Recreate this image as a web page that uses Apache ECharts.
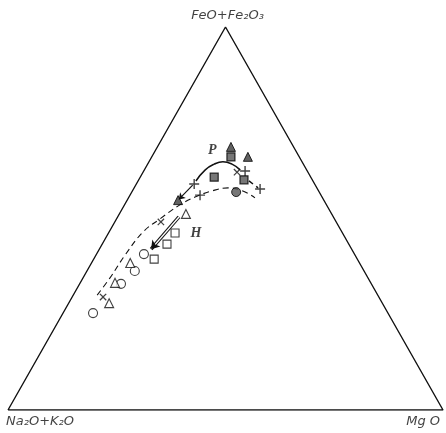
<!DOCTYPE html>
<html><head><meta charset="utf-8">
<script src="https://cdn.jsdelivr.net/npm/echarts@6/dist/echarts.min.js"></script>
<style>html,body{margin:0;padding:0;background:#fff}#c{width:446px;height:433px}</style>
</head><body><div id="c"></div>
<script>
// Ternary compositions in percent, order: [Na2O+K2O, FeO+Fe2O3, MgO]
const vertexNames = ['Na₂O+K₂O', 'FeO+Fe₂O₃', 'Mg O'];
const vertices = [[100, 0, 0], [0, 100, 0], [0, 0, 100]];
const filledTriangles = [[14.4, 68.7, 16.9], [11.8, 66.1, 22.1], [33.5, 54.8, 11.7]];
const filledSquares = [[15.7, 66.1, 18.2], [22.2, 60.8, 17.0], [15.7, 60.1, 24.2]];
const plusMarks = [[14.3, 62.4, 23.3], [27.7, 59.0, 13.3], [27.8, 56.1, 16.1], [13.2, 57.7, 29.1]];
const crossMarks = [[16.3, 62.1, 21.6], [63.4, 29.5, 7.1], [40.3, 49.1, 10.6]];
const filledCircles = [[19.1, 56.9, 24.0]];
const openTriangles = [[62.8, 27.9, 9.3], [58.8, 33.2, 8.0], [52.7, 38.4, 8.9], [33.5, 51.2, 15.3]];
const openCircles = [[67.8, 25.3, 6.9], [57.5, 32.9, 9.5], [52.7, 36.3, 11.0], [48.4, 40.7, 10.9]];
const openSquares = [[46.7, 39.4, 13.9], [41.8, 43.3, 14.9], [38.5, 46.2, 15.3]];
const curveP = [[26.9, 59.8, 13.3], [23.3, 62.7, 14.0], [20.5, 64.2, 15.3], [18.2, 64.8, 17.0], [16.4, 64.2, 19.4], [15.3, 62.7, 22.0]];
const curvePDashed = [[14.7, 59.8, 25.5], [13.5, 58.0, 28.5]];
const curveH = [[64.5, 30.0, 5.5], [59.3, 34.5, 6.2], [52.8, 40.5, 6.7], [45.7, 46.5, 7.8], [40.1, 49.9, 10.0], [34.2, 53.3, 12.5], [29.2, 55.6, 15.2], [24.5, 57.2, 18.3], [20.4, 58.0, 21.6], [17.4, 57.2, 25.4], [15.6, 55.6, 29.2]];
const trendArrow = [[35.5, 50.4, 14.1], [46.1, 42.0, 11.9]];
const smallArrow = [[28.2, 58.7, 13.1], [33.3, 55.1, 11.8]];
const curveLabels = ['P', 'H'];
const curveLabelPos = [[19.1, 67.9, 13.0], [33.7, 46.2, 20.1]];

const H3 = Math.sqrt(3) / 2;
function tern(p) { const s = p[0] + p[1] + p[2]; const F = p[1] / s, M = p[2] / s; return [M + F / 2, F * H3]; }
const T = arr => arr.map(tern);

const plusPath = 'path://M4.3,0h1.4v4.3h4.3v1.4h-4.3v4.3h-1.4v-4.3h-4.3v-1.4h4.3z';
const font = { fontFamily: 'DejaVu Sans', fontStyle: 'italic', color: '#111' };

const chart = echarts.init(document.getElementById('c'), null, { renderer: 'canvas' });
function scatter(data, symbol, size, fill, border, bw, rot) {
  return { type: 'scatter', data: T(data), symbol: symbol, symbolSize: size, symbolRotate: rot || 0, z: 5,
    itemStyle: { color: fill, borderColor: border, borderWidth: bw }, silent: true };
}
chart.setOption({
  animation: false,
  grid: { left: 8, right: 3, top: 27, bottom: 23 },
  xAxis: { type: 'value', min: 0, max: 1, show: false },
  yAxis: { type: 'value', min: 0, max: H3, show: false },
  series: [
    { type: 'line', data: T([vertices[0], vertices[2], vertices[1], vertices[0]]), symbol: 'none',
      lineStyle: { color: '#111', width: 1.4 }, z: 1 },
    { type: 'line', data: T(curveP), smooth: 0.5, symbol: 'none', lineStyle: { color: '#111', width: 1.5 }, z: 2 },
    { type: 'line', data: T(curvePDashed), symbol: 'none', lineStyle: { color: '#111', width: 1.5, type: [5, 4] }, z: 2 },
    { type: 'line', data: T(curveH), smooth: 0.4, symbol: 'none', lineStyle: { color: '#111', width: 1.1, type: [6, 4] }, z: 2 },
    { type: 'lines', coordinateSystem: 'cartesian2d', data: [{ coords: T(trendArrow) }], symbol: 'none',
      lineStyle: { color: '#111', width: 3.4, opacity: 1 }, z: 3 },
    { type: 'lines', coordinateSystem: 'cartesian2d', data: [{ coords: T(trendArrow) }], symbol: 'none',
      lineStyle: { color: '#fff', width: 1.4, opacity: 1 }, z: 3 },
    { type: 'lines', coordinateSystem: 'cartesian2d', data: [{ coords: T(trendArrow) }], symbol: ['none', 'arrow'], symbolSize: 8,
      lineStyle: { color: '#111', width: 0.01, opacity: 1 }, z: 4 },
    { type: 'lines', coordinateSystem: 'cartesian2d', data: [{ coords: T(smallArrow) }], symbol: ['none', 'arrow'], symbolSize: 6,
      lineStyle: { color: '#111', width: 1.2, opacity: 1 }, z: 4 },
    scatter(openCircles, 'circle', 9, '#fff', '#111', 1.1),
    scatter(openTriangles, 'triangle', 9, '#fff', '#111', 1.1),
    scatter(openSquares, 'rect', 8, '#fff', '#111', 1.1),
    scatter(filledTriangles, 'triangle', 9, '#3a3a3a', '#000', 1),
    scatter(filledSquares, 'rect', 8, '#555', '#000', 1.2),
    scatter(filledCircles, 'circle', 9, '#555', '#000', 1),
    scatter(plusMarks, plusPath, 10, '#111', '#111', 0),
    scatter(crossMarks, plusPath, 9, '#111', '#111', 0, 45),
    { type: 'scatter', data: T(curveLabelPos).map((p, i) => ({ value: p, name: curveLabels[i] })), symbolSize: 0, z: 6,
      label: { show: true, position: 'inside', formatter: '{b}', fontFamily: 'Liberation Serif', fontStyle: 'italic',
        fontWeight: 'bold', fontSize: 14, color: '#111' } },
    { type: 'scatter', symbolSize: 0, z: 6,
      data: [
        { value: tern(vertices[1]), name: vertexNames[1], label: { position: 'top', distance: 5, offset: [2, 0] } },
        { value: tern(vertices[0]), name: vertexNames[0], label: { position: 'bottom', distance: 5, align: 'left', offset: [-2, 0] } },
        { value: tern(vertices[2]), name: vertexNames[2], label: { position: 'bottom', distance: 5, align: 'right', offset: [-3, 0] } }
      ],
      label: Object.assign({ show: true, formatter: '{b}', fontSize: 13 }, font) }
  ]
});
</script></body></html>
